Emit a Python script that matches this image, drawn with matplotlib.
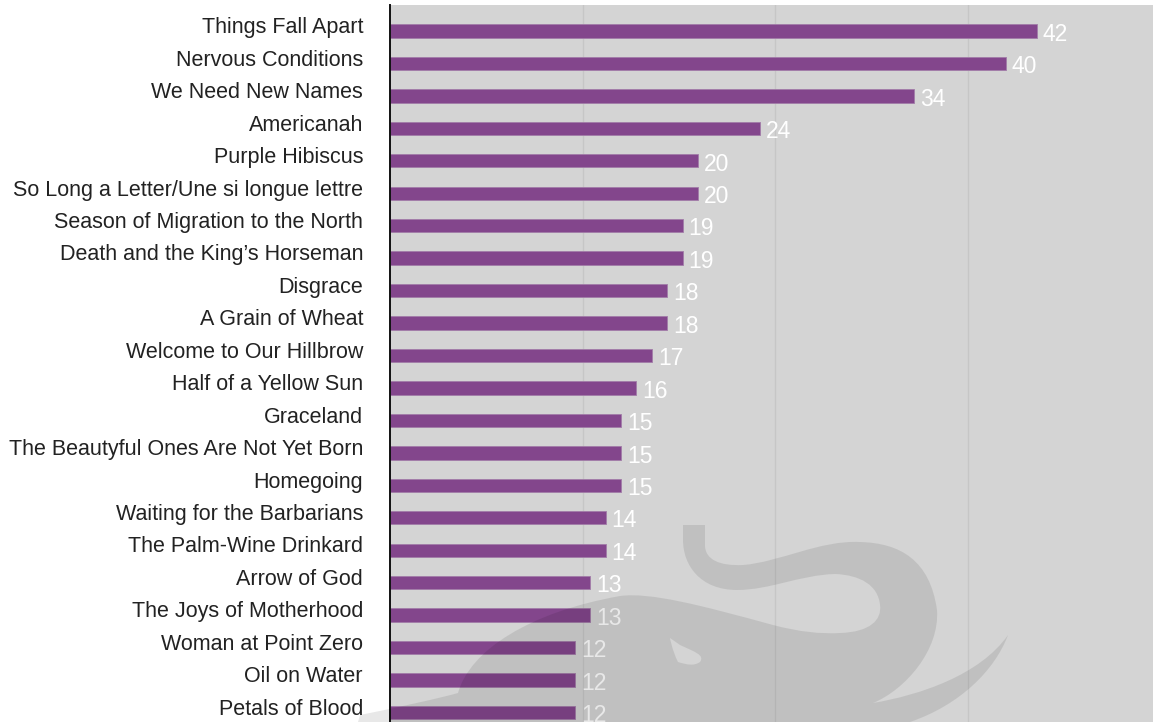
import numpy as np
import matplotlib.pyplot as plt
from matplotlib.path import Path
from matplotlib.patches import PathPatch
from matplotlib.transforms import blended_transform_factory

titles = [
    "Things Fall Apart",
    "Nervous Conditions",
    "We Need New Names",
    "Americanah",
    "Purple Hibiscus",
    "So Long a Letter/Une si longue lettre",
    "Season of Migration to the North",
    "Death and the King\u2019s Horseman",
    "Disgrace",
    "A Grain of Wheat",
    "Welcome to Our Hillbrow",
    "Half of a Yellow Sun",
    "Graceland",
    "The Beautyful Ones Are Not Yet Born",
    "Homegoing",
    "Waiting for the Barbarians",
    "The Palm-Wine Drinkard",
    "Arrow of God",
    "The Joys of Motherhood",
    "Woman at Point Zero",
    "Oil on Water",
    "Petals of Blood",
]
counts = [42, 40, 34, 24, 20, 20, 19, 19, 18, 18, 17, 16, 15, 15, 15, 14, 14, 13, 13, 12, 12, 12]

plt.rcParams['font.family'] = ['Liberation Sans', 'DejaVu Sans']

W, H = 1153, 722
fig = plt.figure(figsize=(W / 100, H / 100), dpi=100)
ax = fig.add_axes([390 / W, 0, 763 / W, 717 / H])
ax.set_facecolor('#d4d4d4')

pos = np.arange(len(titles))
ax.barh(pos, counts, height=0.41, color='#83468c', edgecolor='#a27ca8',
        linewidth=0.6, zorder=2)

ax.set_xlim(0, 763 / 15.4)
ax.set_ylim(21.294, -0.801)
ax.set_xticks([12.5, 25, 37.5])
ax.tick_params(axis='x', length=0, labelbottom=False)
ax.grid(axis='x', color='#c6c6c6', linewidth=1)
ax.set_axisbelow(True)
ax.set_yticks([])
for s in ['top', 'right', 'bottom']:
    ax.spines[s].set_visible(False)
ax.spines['left'].set_color('#111111')
ax.spines['left'].set_linewidth(1.4)

trans = blended_transform_factory(ax.transAxes, ax.transData)
for i, (t, c) in enumerate(zip(titles, counts)):
    ax.text(-27 / 763, i + 0.07, t, transform=trans, ha='right', va='baseline',
            fontsize=15.5, color='#222222', clip_on=False)
    ax.text(c + 6 / 15.4, i + 0.3, str(c), ha='left', va='baseline',
            fontsize=16.5, color='white')


# faint watermark, drawn in figure pixels
def make_path(start, segs):
    verts = [start]
    codes = [Path.MOVETO]
    for seg in segs:
        if len(seg) == 1:
            verts.append(seg[0])
            codes.append(Path.LINETO)
        else:
            verts.extend(seg)
            codes.extend([Path.CURVE4] * 3)
    verts.append(start)
    codes.append(Path.CLOSEPOLY)
    return np.array(verts, float), codes


def area(v):
    x, y = v[:, 0], v[:, 1]
    return 0.5 * np.sum(x * np.roll(y, -1) - np.roll(x, -1) * y)


body_v, body_c = make_path((358, 722), [
    [(360, 715)],
    [(400, 707), (440, 698), (458, 693)],
    [(470, 650), (530, 612), (620, 596)],
    [(650, 592), (700, 605), (773, 625)],
    [(800, 632), (820, 634), (840, 633)],
    [(870, 632), (882, 620), (880, 605)],
    [(878, 585), (860, 575), (835, 574)],
    [(800, 575), (770, 590), (737, 590)],
    [(700, 590), (683, 565), (683, 540)],
    [(683, 525)],
    [(705, 525)],
    [(705, 545)],
    [(705, 560), (720, 566), (743, 565)],
    [(780, 562), (820, 540), (860, 542)],
    [(900, 543), (930, 560), (937, 610)],
    [(940, 650), (905, 690), (873, 703)],
    [(920, 695), (980, 675), (1008, 635)],
    [(995, 670), (960, 705), (910, 722)],
    [(358, 722)],
])
eye_v, eye_c = make_path((670, 638), [
    [(680, 645), (695, 652), (705, 655)],
    [(700, 662), (694, 666), (688, 665)],
    [(678, 662), (672, 650), (670, 638)],
])
if np.sign(area(eye_v)) == np.sign(area(body_v)):
    eye_v = eye_v[::-1]

mark = Path(np.vstack([body_v, eye_v]), body_c + eye_c)
ov = fig.add_axes([0, 0, 1, 1], zorder=5)
ov.set_xlim(0, W)
ov.set_ylim(H, 0)
ov.axis('off')
ov.patch.set_alpha(0)
ov.add_patch(PathPatch(mark, facecolor='black', edgecolor='none', alpha=0.09))

fig.savefig('out.png', dpi=100)
